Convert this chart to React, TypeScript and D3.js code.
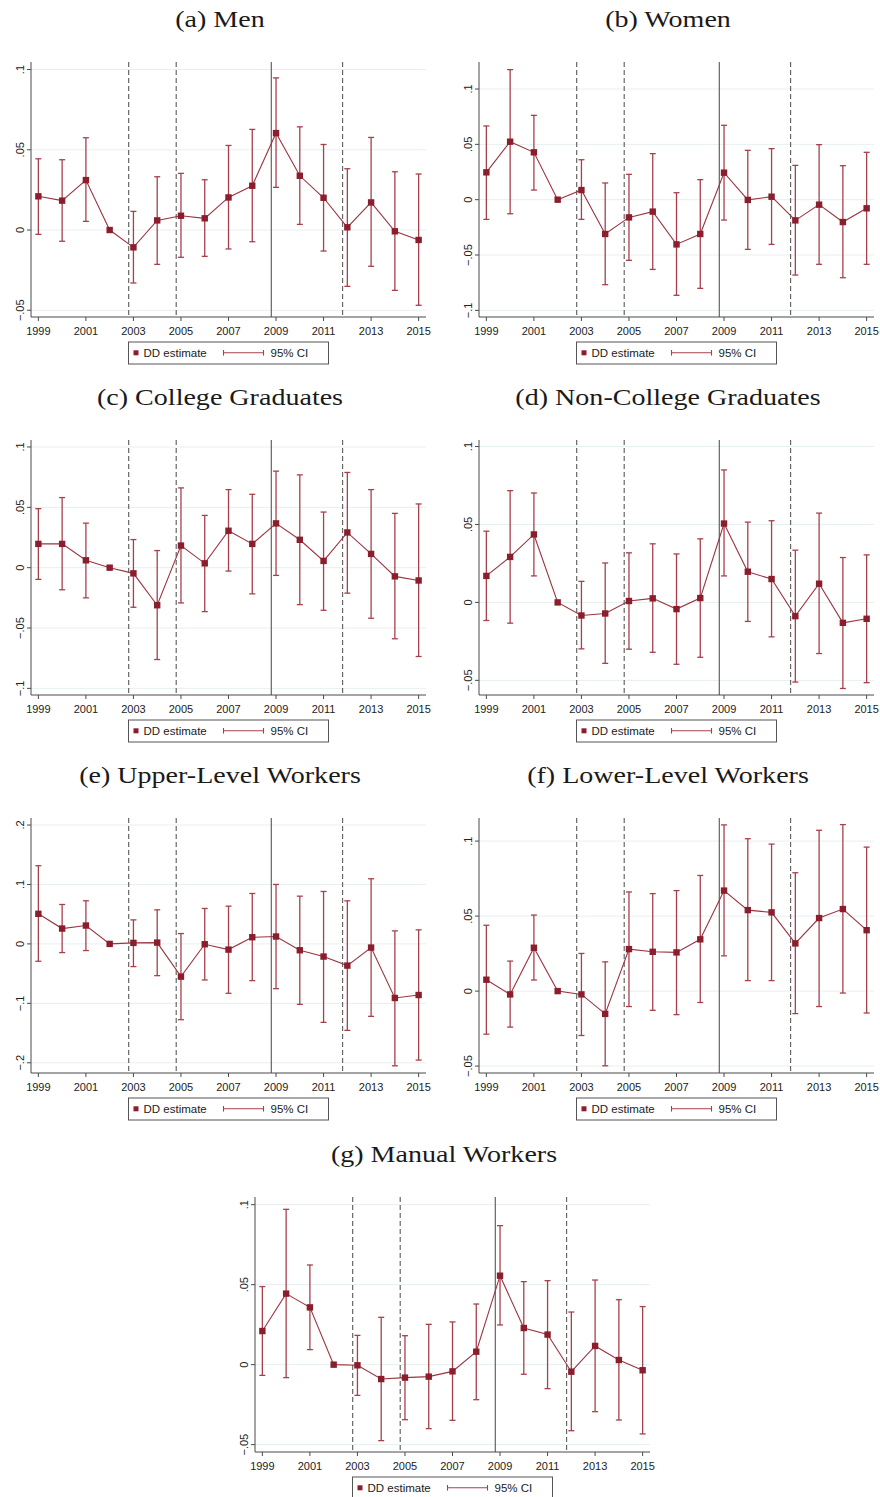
import React from "react";
import * as d3 from "d3";

const years = [1999, 2000, 2001, 2002, 2003, 2004, 2005, 2006, 2007, 2008, 2009, 2010, 2011, 2012, 2013, 2014, 2015];
const xTickYears = [1999, 2001, 2003, 2005, 2007, 2009, 2011, 2013, 2015];
const eventLines = [2002.8, 2004.8, 2008.8, 2011.8];
const eventDashed = [true, true, false, true];

const menEst = [0.021, 0.0183, 0.0311, 0, -0.0108, 0.006, 0.0089, 0.0073, 0.0203, 0.0276, 0.0604, 0.0338, 0.0201, 0.0017, 0.0172, -0.0008, -0.0062];
const menLo = [-0.0027, -0.007, 0.0054, null, -0.033, -0.0214, -0.017, -0.0164, -0.0118, -0.0073, 0.0266, 0.0035, -0.0131, -0.0351, -0.0226, -0.0376, -0.0469];
const menHi = [0.0444, 0.0438, 0.0575, null, 0.0116, 0.0332, 0.0353, 0.0313, 0.0527, 0.0627, 0.0948, 0.0643, 0.0533, 0.0382, 0.0577, 0.0363, 0.0349];

const womenEst = [0.0247, 0.0524, 0.0428, 0, 0.0087, -0.031, -0.016, -0.0108, -0.0404, -0.031, 0.0244, -0.0002, 0.0027, -0.0187, -0.0045, -0.0202, -0.0078];
const womenLo = [-0.0178, -0.0127, 0.0087, null, -0.0178, -0.0768, -0.0548, -0.063, -0.0864, -0.0801, -0.0184, -0.0449, -0.0404, -0.0681, -0.0584, -0.0705, -0.0584];
const womenHi = [0.0666, 0.1175, 0.0762, null, 0.0361, 0.0151, 0.0229, 0.0416, 0.0063, 0.0181, 0.0672, 0.0446, 0.0461, 0.031, 0.0497, 0.0307, 0.0428];

const collegeEst = [0.0197, 0.0197, 0.0061, 0, -0.0047, -0.0311, 0.0183, 0.0036, 0.0306, 0.0197, 0.0367, 0.0231, 0.0056, 0.0292, 0.0114, -0.0072, -0.0106];
const collegeLo = [-0.0097, -0.0183, -0.025, null, -0.0328, -0.0761, -0.0292, -0.0364, -0.0028, -0.0217, -0.0064, -0.0306, -0.0353, -0.0211, -0.0419, -0.0589, -0.0736];
const collegeHi = [0.0489, 0.0581, 0.0369, null, 0.0233, 0.0142, 0.0661, 0.0433, 0.0647, 0.0608, 0.08, 0.0769, 0.0461, 0.0789, 0.0647, 0.045, 0.0528];

const nonCollegeEst = [0.017, 0.0292, 0.0436, 0, -0.0084, -0.0071, 0.0009, 0.0026, -0.0043, 0.0028, 0.0506, 0.0197, 0.015, -0.0088, 0.012, -0.0131, -0.0105];
const nonCollegeLo = [-0.0116, -0.0133, 0.017, null, -0.0298, -0.0391, -0.03, -0.032, -0.0397, -0.0352, 0.017, -0.0122, -0.0221, -0.0511, -0.0328, -0.0552, -0.0515];
const nonCollegeHi = [0.0457, 0.0717, 0.0702, null, 0.0135, 0.0253, 0.0318, 0.0376, 0.0311, 0.0408, 0.085, 0.0515, 0.0524, 0.0335, 0.0573, 0.0288, 0.0305];

const upperEst = [0.0506, 0.0258, 0.0309, 0, 0.0017, 0.0022, -0.0551, -0.0006, -0.0096, 0.0112, 0.0124, -0.0107, -0.0213, -0.0365, -0.0062, -0.091, -0.086];
const upperLo = [-0.0292, -0.0146, -0.0112, null, -0.0382, -0.0534, -0.1275, -0.0607, -0.0831, -0.0618, -0.0753, -0.1017, -0.132, -0.1455, -0.1219, -0.2051, -0.1955];
const upperHi = [0.1315, 0.0663, 0.0725, null, 0.0404, 0.0573, 0.0174, 0.0596, 0.0635, 0.0848, 0.1, 0.0803, 0.0882, 0.0725, 0.1096, 0.0219, 0.0236];

const lowerEst = [0.0076, -0.0022, 0.0289, 0, -0.0022, -0.0152, 0.028, 0.0262, 0.0258, 0.0345, 0.067, 0.054, 0.0525, 0.0318, 0.0487, 0.0547, 0.0406];
const lowerLo = [-0.0287, -0.024, 0.0074, null, -0.0296, -0.0498, -0.0103, -0.0128, -0.0157, -0.0076, 0.0235, 0.007, 0.007, -0.015, -0.0103, -0.0013, -0.0146];
const lowerHi = [0.0439, 0.02, 0.0507, null, 0.0251, 0.0195, 0.0661, 0.065, 0.067, 0.0771, 0.1108, 0.1016, 0.098, 0.0789, 0.1072, 0.111, 0.096];

const manualEst = [0.021, 0.0444, 0.0358, 0, -0.0004, -0.009, -0.0081, -0.0075, -0.0042, 0.0081, 0.0556, 0.0229, 0.0188, -0.0044, 0.0117, 0.0029, -0.0035];
const manualLo = [-0.0067, -0.0081, 0.0094, null, -0.0192, -0.0475, -0.0344, -0.04, -0.0348, -0.0219, 0.0248, -0.006, -0.015, -0.0413, -0.0294, -0.0346, -0.0433];
const manualHi = [0.0488, 0.0971, 0.0623, null, 0.0183, 0.0296, 0.0181, 0.0252, 0.0267, 0.0379, 0.0869, 0.0519, 0.0525, 0.0329, 0.0529, 0.0406, 0.0363];

const titles = ["(a) Men", "(b) Women", "(c) College Graduates", "(d) Non-College Graduates", "(e) Upper-Level Workers", "(f) Lower-Level Workers", "(g) Manual Workers"];
const ticksA = [-0.05, 0, 0.05, 0.1];
const ticksB = [-0.1, -0.05, 0, 0.05, 0.1];
const ticksE = [-0.2, -0.1, 0, 0.1, 0.2];

const panels = [
  { title: titles[0], est: menEst, lo: menLo, hi: menHi, ticks: ticksA, domain: [-0.0542, 0.1047], ox: 0, oy: 0 },
  { title: titles[1], est: womenEst, lo: womenLo, hi: womenHi, ticks: ticksB, domain: [-0.106, 0.1244], ox: 448, oy: 0 },
  { title: titles[2], est: collegeEst, lo: collegeLo, hi: collegeHi, ticks: ticksB, domain: [-0.1055, 0.1058], ox: 0, oy: 378 },
  { title: titles[3], est: nonCollegeEst, lo: nonCollegeLo, hi: nonCollegeHi, ticks: ticksA, domain: [-0.0594, 0.1042], ox: 448, oy: 378 },
  { title: titles[4], est: upperEst, lo: upperLo, hi: upperHi, ticks: ticksE, domain: [-0.2172, 0.2118], ox: 0, oy: 756 },
  { title: titles[5], est: lowerEst, lo: lowerLo, hi: lowerHi, ticks: ticksA, domain: [-0.0546, 0.1154], ox: 448, oy: 756 },
  { title: titles[6], est: manualEst, lo: manualLo, hi: manualHi, ticks: ticksA, domain: [-0.0546, 0.1048], ox: 224, oy: 1135 },
];

const W = 880;
const H = 1497;
const PLOT_L = 31;
const PLOT_R = 426;
const PLOT_T = 62;
const PLOT_B = 317;

const MARKER = "#8a1e2d";
const LINE = "#9b3340";
const CI = "#a8404c";
const GRID = "#e7eff0";
const AXIS = "#4a4a4a";
const SANS = "'Liberation Sans', Arial, sans-serif";
const SERIF = "'Liberation Serif', 'Times New Roman', serif";

const fmt = (v: number) => {
  if (v === 0) return "0";
  const s = d3.format("")(+v.toFixed(3));
  return s.replace("0.", ".");
};

function Panel({ p }: { p: any }) {
  const x = d3.scaleLinear().domain([1998.69, 2015.31]).range([PLOT_L, PLOT_R]);
  const y = d3.scaleLinear().domain(p.domain).range([PLOT_B, PLOT_T]);
  const pts = years.map((yr, i) => ({ yr, v: p.est[i] }));
  const line = d3.line<any>().x((d) => x(d.yr)).y((d) => y(d.v));
  const cx = (PLOT_L + PLOT_R) / 2;
  const legL = cx - 100;
  const titleCx = 220;
  return (
    <g transform={`translate(${p.ox},${p.oy})`}>
      <text
        x={0}
        y={0}
        transform={`translate(${titleCx},27) scale(1.22,1)`}
        textAnchor="middle"
        fontFamily={SERIF}
        fontSize={23}
        fill="#1a1a1a"
      >
        {p.title}
      </text>
      {p.ticks.map((t: number) => (
        <line key={"g" + t} x1={PLOT_L} x2={PLOT_R} y1={y(t)} y2={y(t)} stroke={GRID} strokeWidth={1} />
      ))}
      {eventLines.map((e, i) => (
        <line
          key={"e" + i}
          x1={x(e)}
          x2={x(e)}
          y1={PLOT_T}
          y2={PLOT_B}
          stroke={eventDashed[i] ? "#666" : "#555"}
          strokeWidth={eventDashed[i] ? 1.2 : 1.1}
          strokeDasharray={eventDashed[i] ? "5,3" : undefined}
        />
      ))}
      {years.map((yr, i) =>
        p.lo[i] == null ? null : (
          <g key={"ci" + yr} stroke={CI} strokeWidth={1.3}>
            <line x1={x(yr)} x2={x(yr)} y1={y(p.lo[i])} y2={y(p.hi[i])} />
            <line x1={x(yr) - 3} x2={x(yr) + 3} y1={y(p.lo[i])} y2={y(p.lo[i])} />
            <line x1={x(yr) - 3} x2={x(yr) + 3} y1={y(p.hi[i])} y2={y(p.hi[i])} />
          </g>
        )
      )}
      <path d={line(pts) || ""} fill="none" stroke={LINE} strokeWidth={1.1} />
      {pts.map((d) => (
        <rect key={"m" + d.yr} x={x(d.yr) - 3.2} y={y(d.v) - 3.2} width={6.4} height={6.4} fill={MARKER} />
      ))}
      <line x1={PLOT_L} x2={PLOT_L} y1={PLOT_T} y2={PLOT_B} stroke={AXIS} strokeWidth={1} />
      <line x1={PLOT_L} x2={PLOT_R} y1={PLOT_B} y2={PLOT_B} stroke={AXIS} strokeWidth={1} />
      {p.ticks.map((t: number) => (
        <g key={"yt" + t}>
          <line x1={PLOT_L - 4} x2={PLOT_L} y1={y(t)} y2={y(t)} stroke={AXIS} />
          <text
            transform={`translate(${PLOT_L - 7},${y(t)}) rotate(-90)`}
            textAnchor="middle"
            fontFamily={SANS}
            fontSize={11}
            fill="#222"
          >
            {fmt(t)}
          </text>
        </g>
      ))}
      {xTickYears.map((t) => (
        <g key={"xt" + t}>
          <line x1={x(t)} x2={x(t)} y1={PLOT_B} y2={PLOT_B + 4} stroke={AXIS} />
          <text x={x(t)} y={PLOT_B + 18} textAnchor="middle" fontFamily={SANS} fontSize={11} fill="#222">
            {t}
          </text>
        </g>
      ))}
      <rect x={legL} y={342} width={200} height={22} fill="#fff" stroke="#555" strokeWidth={1} />
      <rect x={legL + 5} y={350.3} width={5} height={5} fill={MARKER} />
      <text x={legL + 15} y={357} fontFamily={SANS} fontSize={11.5} fill="#222">DD estimate</text>
      <g stroke={CI} strokeWidth={1.1}>
        <line x1={legL + 95} x2={legL + 135} y1={352.8} y2={352.8} />
        <line x1={legL + 95} x2={legL + 95} y1={350} y2={355.6} />
        <line x1={legL + 135} x2={legL + 135} y1={350} y2={355.6} />
      </g>
      <text x={legL + 142} y={357} fontFamily={SANS} fontSize={11.5} fill="#222">95% CI</text>
    </g>
  );
}

export default function App() {
  return (
    <svg
      width={W}
      height={H}
      viewBox={`0 0 ${W} ${H}`}
      style={{ position: "absolute", left: 0, top: 0, display: "block", background: "#fff" }}
    >
      <rect x={0} y={0} width={W} height={H} fill="#fff" />
      {panels.map((p, i) => (
        <Panel key={i} p={p} />
      ))}
    </svg>
  );
}
